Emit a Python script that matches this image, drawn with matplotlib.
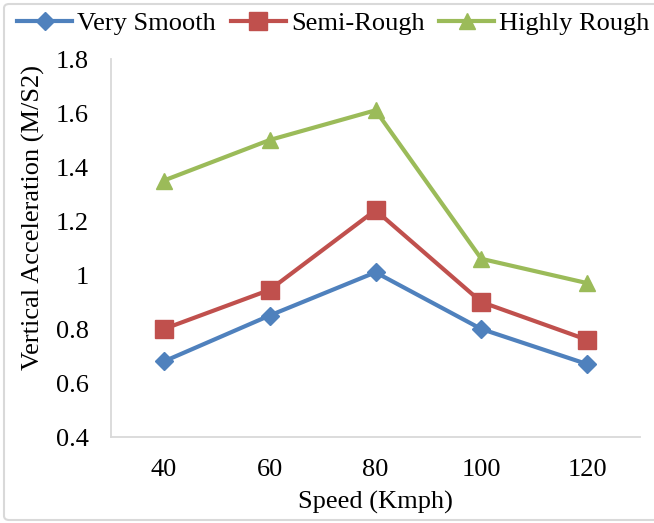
import matplotlib.pyplot as plt
from matplotlib.patches import FancyBboxPatch

# data
speeds = ['40', '60', '80', '100', '120']
very_smooth = [0.68, 0.85, 1.01, 0.80, 0.67]
semi_rough = [0.80, 0.945, 1.24, 0.90, 0.76]
highly_rough = [1.35, 1.50, 1.61, 1.06, 0.97]

plt.rcParams['font.family'] = ['Liberation Serif', 'DejaVu Serif']

fig = plt.figure(figsize=(6.54, 5.23), dpi=100)
ax = fig.add_axes([111 / 654, 1 - 437 / 523, (640 - 111) / 654, (437 - 59) / 523])

x = range(len(speeds))
ax.plot(x, very_smooth, color='#4F81BD', lw=3, marker='D', ms=9.2, label='Very Smooth')
ax.plot(x, semi_rough, color='#C0504D', lw=3, marker='s', ms=12.5, label='Semi-Rough')
ax.plot(x, highly_rough, color='#9BBB59', lw=3, marker='^', ms=12, label='Highly Rough')

ax.set_xlim(-0.5, 4.5)
ax.set_ylim(0.4, 1.8)
ax.set_xticks(list(x))
ax.set_xticklabels(speeds)
ax.set_yticks([0.4, 0.6, 0.8, 1.0, 1.2, 1.4, 1.6, 1.8])
ax.set_yticklabels(['0.4', '0.6', '0.8', '1', '1.2', '1.4', '1.6', '1.8'])
ax.tick_params(length=0, labelsize=19, colors='black')
ax.tick_params(axis='x', pad=16)
ax.tick_params(axis='y', pad=16)

for s in ['top', 'right']:
    ax.spines[s].set_visible(False)
for s in ['left', 'bottom']:
    ax.spines[s].set_color('#D9D9D9')
    ax.spines[s].set_linewidth(1.3)

ax.set_xlabel('Speed (Kmph)', fontsize=19, labelpad=7)
ax.set_ylabel('Vertical Acceleration (M/S2)', fontsize=19, labelpad=8)
ax.yaxis.label.set_y(0.582)

fig.legend(loc='center', bbox_to_anchor=((18 + 649) / 2 / 654, 1 - 23 / 523), ncol=3, frameon=False,
           fontsize=19, handlelength=2.08, handletextpad=0.19, columnspacing=0.57)

# light frame round the chart, its right side runs off the picture
frame = FancyBboxPatch((4 / 654, 3 / 523), 1.05, 1 - 7 / 523,
                       boxstyle='round,pad=0,rounding_size=0.008', transform=fig.transFigure,
                       fill=False, edgecolor='#D9D9D9', lw=1.5, clip_on=False)
fig.patches.append(frame)

fig.savefig('out.png', dpi=100)
